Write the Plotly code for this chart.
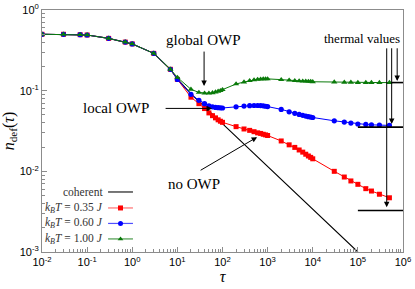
import plotly.graph_objects as go

# ---------------- data ----------------
tau_early = [0.01, 0.03, 0.07, 0.1, 0.3, 0.7, 1, 3, 7]
n_early = [0.50, 0.50, 0.494, 0.49, 0.445, 0.40, 0.38, 0.29, 0.184]

tau_late = [10, 20, 30, 40, 50, 60, 70, 80, 90, 100,
            200, 300, 400, 500, 600, 700, 800, 900, 1000,
            2000, 3000, 4000, 5000, 6000, 7000, 8000, 9000, 10000,
            3e4, 5e4, 7e4, 1e5, 1.5e5, 2e5, 3e5, 5e5]

n_red = [0.138, 0.083, 0.069, 0.060, 0.053, 0.049, 0.046, 0.0435, 0.0418, 0.0405,
         0.0358, 0.0335, 0.0322, 0.031, 0.030, 0.0295, 0.0288, 0.0283, 0.0278,
         0.0238, 0.0213, 0.0198, 0.0184, 0.0173, 0.0163, 0.0155, 0.0149, 0.0143,
         0.0100, 0.0085, 0.0076, 0.0069, 0.0061, 0.0057, 0.0052, 0.0047]

n_blue = [0.138, 0.090, 0.076, 0.069, 0.065, 0.063, 0.062, 0.0615, 0.0612, 0.061,
          0.0630, 0.0645, 0.0652, 0.0655, 0.0655, 0.0653, 0.0648, 0.0641, 0.0635,
          0.0586, 0.0547, 0.0523, 0.0508, 0.0494, 0.0484, 0.0476, 0.0470, 0.0465,
          0.0423, 0.0408, 0.0396, 0.0386, 0.0381, 0.0377, 0.0374, 0.0371]

n_green = [0.146, 0.104, 0.095, 0.093, 0.093, 0.094, 0.096, 0.098, 0.100, 0.103,
           0.121, 0.128, 0.133, 0.136, 0.138, 0.139, 0.140, 0.140, 0.140,
           0.137, 0.135, 0.133, 0.132, 0.131, 0.131, 0.130, 0.130, 0.129,
           0.128, 0.127, 0.127, 0.126, 0.126, 0.126, 0.126, 0.126]

tau_coh_late = [10, 20, 30, 50, 100, 1000, 10000, 100000]
n_coh_late = [0.14, 0.091, 0.0735, 0.056, 0.0388, 0.0115, 0.00338, 0.0010]

thermal_values = [0.00327, 0.0353, 0.126]      # red, blue, green
thermal_tau_start = [1e5, 1e5, 5.5e5]
thermal_tau_end = [1e6, 1e6, 1e6]

legend_labels = ["coherent",
                 "<i>k</i><sub><i>B</i></sub><i>T</i> = 0.35 <i>J</i>",
                 "<i>k</i><sub><i>B</i></sub><i>T</i> = 0.60 <i>J</i>",
                 "<i>k</i><sub><i>B</i></sub><i>T</i> = 1.00 <i>J</i>"]

x_tickvals = [1e-2, 1e-1, 1e0, 1e1, 1e2, 1e3, 1e4, 1e5, 1e6]
x_ticktext = ["10<sup>-2</sup>", "10<sup>-1</sup>", "10<sup>0</sup>", "10<sup>1</sup>",
              "10<sup>2</sup>", "10<sup>3</sup>", "10<sup>4</sup>", "10<sup>5</sup>",
              "10<sup>6</sup>"]
y_tickvals = [1e-3, 1e-2, 1e-1, 1e0]
y_ticktext = ["10<sup>-3</sup>", "10<sup>-2</sup>", "10<sup>-1</sup>", "10<sup>0</sup>"]

# ---------------- styling ----------------
RED = "#ff0000"
BLUE = "#0000ff"
GREEN = "#0a7a0a"
SERIF = "Liberation Serif"
SANS = "Liberation Sans"
AXC = "#8c8c8c"

fig = go.Figure()

tau_all = tau_early + tau_late

fig.add_trace(go.Scatter(x=tau_early + tau_coh_late, y=n_early + n_coh_late,
                         mode="lines", line=dict(color="black", width=1.1),
                         showlegend=False, hoverinfo="skip"))
fig.add_trace(go.Scatter(x=tau_all, y=n_early + n_red, mode="lines+markers",
                         line=dict(color=RED, width=1),
                         marker=dict(symbol="square", size=5, color=RED),
                         showlegend=False))
fig.add_trace(go.Scatter(x=tau_all, y=n_early + n_blue, mode="lines+markers",
                         line=dict(color=BLUE, width=1),
                         marker=dict(symbol="circle", size=5.2, color=BLUE),
                         showlegend=False))
fig.add_trace(go.Scatter(x=tau_all, y=n_early + n_green, mode="lines+markers",
                         line=dict(color=GREEN, width=1),
                         marker=dict(symbol="triangle-up", size=5.5, color=GREEN),
                         showlegend=False))

for t0, t1, v in zip(thermal_tau_start, thermal_tau_end, thermal_values):
    fig.add_trace(go.Scatter(x=[t0, t1], y=[v, v], mode="lines",
                             line=dict(color="black", width=1.6),
                             showlegend=False, hoverinfo="skip"))

# ---------------- custom legend (text left, sample right) ----------------
leg_y = [0.248, 0.182, 0.118, 0.054]
leg_line_colors = ["#555555", "#ff7070", "#5050ff", "#4a9a4a"]
leg_marker_syms = [None, "square", "circle", "triangle-up"]
leg_marker_cols = [None, RED, BLUE, GREEN]
for lbl, yy, lc, ms, mc in zip(legend_labels, leg_y, leg_line_colors,
                               leg_marker_syms, leg_marker_cols):
    fig.add_annotation(xref="paper", yref="paper", x=0.1745, y=yy, text=lbl,
                       showarrow=False, xanchor="right", yanchor="middle",
                       font=dict(family=SERIF, size=11.5, color="#333333"))
    fig.add_trace(go.Scatter(x=[0.183, 0.252], y=[yy, yy], mode="lines",
                             line=dict(color=lc, width=1.6 if ms is None else 1.2),
                             xaxis="x2", yaxis="y2", showlegend=False,
                             hoverinfo="skip"))
    if ms is not None:
        fig.add_trace(go.Scatter(x=[0.2175], y=[yy], mode="markers",
                                 marker=dict(symbol=ms, size=5, color=mc),
                                 xaxis="x2", yaxis="y2", showlegend=False,
                                 hoverinfo="skip"))

# ---------------- annotations ----------------
ann_font = dict(family=SERIF, size=15, color="black")
fig.add_annotation(x=1.58, y=-0.372, text="global OWP", showarrow=False, font=ann_font)
fig.add_annotation(x=-0.359, y=-1.216, text="local OWP", showarrow=False, font=ann_font)
fig.add_annotation(x=1.37, y=-2.159, text="no OWP", showarrow=False, font=ann_font)
fig.add_annotation(x=5.089, y=-0.351, text="thermal values", showarrow=False,
                   font=dict(family=SERIF, size=13, color="black"))

arrow_kw = dict(text="", showarrow=True, arrowhead=2, arrowsize=1.1, arrowwidth=1,
                arrowcolor="black", standoff=0, startstandoff=0)
fig.add_annotation(x=1.592, y=-0.943, ax=0, ay=-36, **arrow_kw)      # global
fig.add_annotation(x=1.769, y=-1.22, ax=-48, ay=0, **arrow_kw)       # local
fig.add_annotation(x=2.767, y=-1.576, ax=-58, ay=34, **arrow_kw)     # no OWP
fig.add_annotation(x=5.639, y=-2.444, ax=0, ay=-160.3, **arrow_kw)   # thermal red
fig.add_annotation(x=5.749, y=-1.414, ax=0, ay=-77.3, **arrow_kw)    # thermal blue
fig.add_annotation(x=5.871, y=-0.881, ax=0, ay=-34.3, **arrow_kw)    # thermal green

# ---------------- axes ----------------
x_minor = [m * 10 ** e for e in range(-2, 6) for m in range(2, 10)]
y_minor = [m * 10 ** e for e in range(-3, 0) for m in range(2, 10)]

fig.update_layout(
    width=415, height=289, autosize=False,
    margin=dict(l=42, r=12, t=10, b=37, pad=0, autoexpand=False),
    paper_bgcolor="white", plot_bgcolor="white",
    showlegend=False,
    xaxis=dict(type="log", range=[-2, 6], tickmode="array", tickvals=x_tickvals,
               ticktext=x_ticktext, ticks="inside", ticklen=5, tickcolor=AXC,
               showline=True, linecolor=AXC, linewidth=1, mirror=True,
               showgrid=False, zeroline=False, automargin=False,
               minor=dict(tickmode="array", tickvals=x_minor, ticks="inside",
                          ticklen=3, tickcolor=AXC, showgrid=False),
               tickfont=dict(family=SANS, size=11, color="black"),
               title=dict(text="<i>τ</i>", font=dict(family=SERIF, size=16, color="black"),
                          standoff=0)),
    yaxis=dict(type="log", range=[-3, 0], tickmode="array", tickvals=y_tickvals,
               ticktext=y_ticktext, ticks="inside", ticklen=5, tickcolor=AXC,
               showline=True, linecolor=AXC, linewidth=1, mirror=True,
               showgrid=False, zeroline=False, automargin=False,
               minor=dict(tickmode="array", tickvals=y_minor, ticks="inside",
                          ticklen=3, tickcolor=AXC, showgrid=False),
               tickfont=dict(family=SANS, size=11, color="black"),
               title=dict(text="<i>n</i><sub>def</sub>(<i>τ</i>)",
                          font=dict(family=SERIF, size=16, color="black"), standoff=4)),
    xaxis2=dict(overlaying="x", range=[0, 1], visible=False, fixedrange=True),
    yaxis2=dict(overlaying="y", range=[0, 1], visible=False, fixedrange=True),
)

fig.write_html("out.html", config={"displayModeBar": False},
               post_script="document.body.style.margin='0';document.body.style.overflow='hidden';")
